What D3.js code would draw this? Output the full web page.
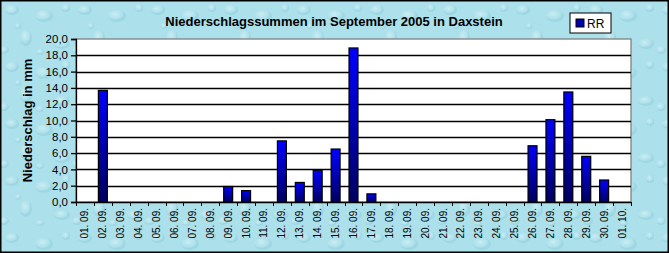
<!DOCTYPE html>
<html>
<head>
<meta charset="utf-8">
<style>
  body { margin: 0; }
  svg text { font-family: "Liberation Sans", Arial, sans-serif; }
  .grid line { stroke: #000; stroke-width: 1.3px; }
</style>
</head>
<body>
<script src="https://cdn.jsdelivr.net/npm/d3@7"></script>
<script>
var width = 669, height = 253;

// data
var days = ["01. 09.", "02. 09.", "03. 09.", "04. 09.", "05. 09.", "06. 09.", "07. 09.", "08. 09.",
    "09. 09.", "10. 09.", "11. 09.", "12. 09.", "13. 09.", "14. 09.", "15. 09.", "16. 09.",
    "17. 09.", "18. 09.", "19. 09.", "20. 09.", "21. 09.", "22. 09.", "23. 09.", "24. 09.",
    "25. 09.", "26. 09.", "27. 09.", "28. 09.", "29. 09.", "30. 09.", "01. 10."];
var rr = [0, 13.7, 0, 0, 0, 0, 0, 0,
    1.9, 1.4, 0, 7.5, 2.4, 3.9, 6.5, 18.9,
    1.0, 0, 0, 0, 0, 0, 0, 0,
    0, 6.9, 10.1, 13.5, 5.6, 2.7, 0];
var yTicks = [0, 2, 4, 6, 8, 10, 12, 14, 16, 18, 20];

var plot = {left: 76, right: 631, top: 39, bottom: 202};

var svg = d3.select("body").append("svg")
    .attr("width", width)
    .attr("height", height);

var defs = svg.append("defs");

var bg = defs.append("radialGradient").attr("id", "drop")
    .attr("cx", "40%").attr("cy", "35%");
bg.append("stop").attr("offset", "0%").attr("stop-color", "#e8f8fb").attr("stop-opacity", 0.55);
bg.append("stop").attr("offset", "70%").attr("stop-color", "#c4ebf2").attr("stop-opacity", 0.25);
bg.append("stop").attr("offset", "100%").attr("stop-color", "#7fc6d6").attr("stop-opacity", 0.35);

// water drop texture, purely decorative
var pat = defs.append("pattern")
    .attr("id", "water")
    .attr("patternUnits", "userSpaceOnUse")
    .attr("width", 73).attr("height", 57);
pat.append("rect").attr("width", 73).attr("height", 57).attr("fill", "#ace0ea");
[[12, 10, 7, 5], [44, 16, 9, 6], [26, 38, 6, 8], [62, 44, 8, 5], [4, 50, 5, 4], [40, 52, 4, 3], [66, 8, 4, 4], [18, 26, 3, 3]]
    .forEach(function(e) {
        pat.append("ellipse")
            .attr("cx", e[0]).attr("cy", e[1])
            .attr("rx", e[2]).attr("ry", e[3])
            .attr("fill", "url(#drop)");
    });

var bar = defs.append("linearGradient")
    .attr("id", "bar")
    .attr("x1", 0).attr("y1", 0).attr("x2", 0).attr("y2", 1);
bar.append("stop").attr("offset", "0%").attr("stop-color", "#0000ff");
bar.append("stop").attr("offset", "100%").attr("stop-color", "#000060");

svg.append("rect")
    .attr("x", 0.75).attr("y", 0.75)
    .attr("width", width - 1.5).attr("height", height - 1.5)
    .attr("fill", "url(#water)")
    .attr("stroke", "#000")
    .attr("stroke-width", 1.5);

var x = d3.scaleBand()
    .domain(days)
    .range([plot.left, plot.right]);

var y = d3.scaleLinear()
    .domain([0, 20])
    .range([plot.bottom, plot.top]);

// plot area
svg.append("rect")
    .attr("x", plot.left).attr("y", plot.top)
    .attr("width", plot.right - plot.left)
    .attr("height", plot.bottom - plot.top)
    .attr("fill", "#fff")
    .attr("stroke", "#808080")
    .attr("stroke-width", 1.3);

svg.append("g")
    .attr("class", "grid")
    .selectAll("line")
    .data(yTicks.filter(function(d) { return d > 0 && d < 20; }))
    .enter().append("line")
    .attr("x1", plot.left).attr("x2", plot.right)
    .attr("y1", function(d) { return Math.round(y(d)) + 0.5; })
    .attr("y2", function(d) { return Math.round(y(d)) + 0.5; });

// bars
var bw = x.bandwidth() * 0.5;
svg.append("g")
    .selectAll("rect")
    .data(rr.map(function(v, i) { return {day: days[i], value: v}; })
        .filter(function(d) { return d.value > 0; }))
    .enter().append("rect")
    .attr("x", function(d) { return x(d.day) + (x.bandwidth() - bw) / 2; })
    .attr("y", function(d) { return y(d.value); })
    .attr("width", bw)
    .attr("height", function(d) { return y(0) - y(d.value); })
    .attr("fill", "url(#bar)")
    .attr("stroke", "#000")
    .attr("stroke-width", 1.2);

// y axis
var yAxis = svg.append("g")
    .attr("transform", "translate(" + plot.left + ",0)")
    .call(d3.axisLeft(y)
        .tickValues(yTicks)
        .tickSize(5)
        .tickPadding(3)
        .tickFormat(function(d) { return d3.format(".1f")(d).replace(".", ","); }));
yAxis.select(".domain").attr("stroke", "#000").attr("stroke-width", 1.3);
yAxis.selectAll(".tick line").attr("stroke", "#000").attr("stroke-width", 1.3);
yAxis.selectAll("text")
    .attr("fill", "#000")
    .style("font-size", "11.5px")
    .style("font-family", "'Liberation Sans', Arial, sans-serif");

// x axis: ticks between categories, labels rotated
var xg = svg.append("g");
xg.append("line")
    .attr("x1", plot.left).attr("x2", plot.right)
    .attr("y1", plot.bottom + 0.5).attr("y2", plot.bottom + 0.5)
    .attr("stroke", "#000").attr("stroke-width", 1.3);
xg.selectAll(".xt")
    .data(days.concat(["end"]))
    .enter().append("line")
    .attr("class", "xt")
    .attr("x1", function(d, i) { return Math.round(plot.left + i * x.step()) + 0.5; })
    .attr("x2", function(d, i) { return Math.round(plot.left + i * x.step()) + 0.5; })
    .attr("y1", plot.bottom)
    .attr("y2", plot.bottom + 4)
    .attr("stroke", "#000");
xg.selectAll("text")
    .data(days)
    .enter().append("text")
    .attr("transform", function(d) {
        return "translate(" + (x(d) + x.bandwidth() / 2) + "," + (plot.bottom + 6) + ") rotate(-90)";
    })
    .attr("dy", "0.35em")
    .attr("text-anchor", "end")
    .style("font-size", "10px")
    .text(function(d) { return d; });

// y axis title
svg.append("text")
    .attr("transform", "translate(27," + ((plot.top + plot.bottom) / 2) + ") rotate(-90)")
    .attr("dy", "0.35em")
    .attr("text-anchor", "middle")
    .style("font-size", "13px")
    .style("font-weight", "bold")
    .text("Niederschlag in mm");

// title
svg.append("text")
    .attr("x", 334)
    .attr("y", 26)
    .attr("text-anchor", "middle")
    .style("font-size", "13px")
    .style("font-weight", "bold")
    .text("Niederschlagssummen im September 2005 in Daxstein");

// legend
var lg = svg.append("g").attr("transform", "translate(570,13)");
lg.append("rect")
    .attr("width", 41).attr("height", 20)
    .attr("fill", "#fff")
    .attr("stroke", "#000");
lg.append("rect")
    .attr("x", 6).attr("y", 6)
    .attr("width", 8).attr("height", 8)
    .attr("fill", "#0000b0")
    .attr("stroke", "#000");
lg.append("text")
    .attr("x", 17).attr("y", 15)
    .style("font-size", "12px")
    .text("RR");
</script>
</body>
</html>
